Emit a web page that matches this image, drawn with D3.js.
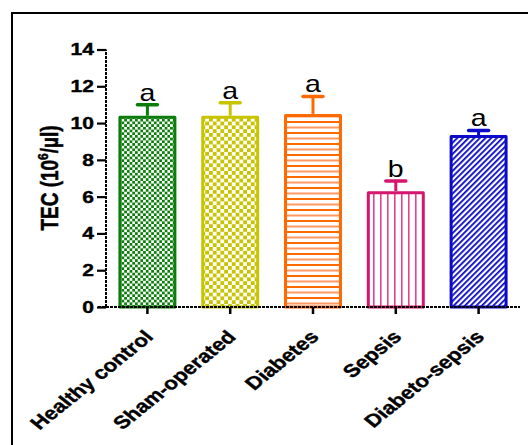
<!DOCTYPE html>
<html><head><meta charset="utf-8">
<script src="https://cdn.jsdelivr.net/npm/d3@7"></script>
<style>body{margin:0;background:#fff}svg{display:block}</style>
</head><body>
<script>
const categories = ["Healthy control","Sham-operated","Diabetes","Sepsis","Diabeto-sepsis"];
const means = [10.4, 10.4, 10.5, 6.3, 9.35];
const errors = [0.6, 0.7, 0.95, 0.55, 0.25];
const letters = ["a","a","a","b","a"];
const yTicks = [0,2,4,6,8,10,12,14];
const colors = ["#0a7d0a","#c8c400","#ff6a00","#d6156f","#0a0ac8"];

const W=528,H=445;
const SX=1.24; // horizontal stretch of the original figure's text
const svg=d3.select("body").append("svg").attr("width",W).attr("height",H);
const defs=svg.append("defs");
const FONT="Liberation Sans, Arial, sans-serif";

function checker(id,col,s){
  const p=defs.append("pattern").attr("id",id).attr("patternUnits","userSpaceOnUse").attr("width",2*s).attr("height",2*s);
  p.append("rect").attr("width",2*s).attr("height",2*s).attr("fill","#fff");
  p.append("rect").attr("width",s).attr("height",s).attr("fill",col);
  p.append("rect").attr("x",s).attr("y",s).attr("width",s).attr("height",s).attr("fill",col);
}
checker("p0",colors[0],2.7);
checker("p1",colors[1],3.8);
{
  const p=defs.append("pattern").attr("id","p2").attr("patternUnits","userSpaceOnUse").attr("width",10).attr("height",11);
  p.append("rect").attr("width",10).attr("height",11).attr("fill","#fff");
  p.append("rect").attr("y",0).attr("width",10).attr("height",2).attr("fill",colors[2]);
  p.append("rect").attr("y",5.5).attr("width",10).attr("height",2).attr("fill","#ff9a66");
}
{
  const p=defs.append("pattern").attr("id","p3").attr("patternUnits","userSpaceOnUse").attr("width",7).attr("height",10);
  p.append("rect").attr("width",7).attr("height",10).attr("fill","#fff");
  p.append("rect").attr("x",2).attr("width",1.6).attr("height",10).attr("fill","#e2448f");
}
{
  const p=defs.append("pattern").attr("id","p4").attr("patternUnits","userSpaceOnUse").attr("width",4).attr("height",4).attr("patternTransform","rotate(45)");
  p.append("rect").attr("width",4).attr("height",4).attr("fill","#fff");
  p.append("rect").attr("width",1.8).attr("height",4).attr("fill",colors[4]);
}

svg.append("rect").attr("x",12).attr("y",13).attr("width",W).attr("height",H).attr("fill","none").attr("stroke","#000").attr("stroke-width",2);

const x0=106,x1=520,yTop=49.5,yBot=307;
const x=d3.scaleBand().domain(categories).range([x0,x1]).paddingInner(0.3).paddingOuter(0.15);
const y=d3.scaleLinear().domain([0,14]).range([yBot,yTop]);

const g=svg.append("g");
categories.forEach((c,i)=>{
  const bx=x(c), bw=x.bandwidth();
  g.append("rect").attr("x",bx+1.5).attr("y",y(means[i])+1.5).attr("width",bw-3).attr("height",y(0)-y(means[i])-1.5)
   .attr("fill",`url(#p${i})`).attr("stroke",colors[i]).attr("stroke-width",3).attr("stroke-linejoin","round");
  const cx=bx+bw/2;
  g.append("line").attr("x1",cx).attr("x2",cx).attr("y1",y(means[i])).attr("y2",y(means[i]+errors[i])).attr("stroke",colors[i]).attr("stroke-width",3);
  g.append("line").attr("x1",cx-10).attr("x2",cx+10).attr("y1",y(means[i]+errors[i])).attr("y2",y(means[i]+errors[i])).attr("stroke",colors[i]).attr("stroke-width",3.5).attr("stroke-linecap","round");
  g.append("text").attr("transform",`translate(${cx},${y(means[i]+errors[i])-4}) scale(${SX},1)`).attr("text-anchor","middle")
   .attr("font-family",FONT).attr("font-size",23).text(letters[i]);
});

const ya=svg.append("g").attr("transform",`translate(${x0},0)`)
  .call(d3.axisLeft(y).tickValues(yTicks).tickSize(9).tickPadding(2));
ya.select(".domain").attr("stroke-width",2).attr("stroke-dasharray","3,1").attr("d",`M0,${yBot}V${yTop}`);
ya.selectAll(".tick line").attr("stroke-width",2.2);
ya.selectAll("text").attr("font-family",FONT).attr("font-weight","bold").attr("font-size",17).attr("fill","#000")
  .attr("stroke","#000").attr("stroke-width",0.4)
  .attr("x",0).attr("transform",`translate(-12,0) scale(${SX},1)`);

const xa=svg.append("g").attr("transform",`translate(0,${yBot})`)
  .call(d3.axisBottom(x).tickSize(7).tickPadding(6));
xa.select(".domain").attr("stroke-width",2).attr("stroke-dasharray","3,1").attr("d",`M${x0-8},0H${x1}`);
xa.selectAll(".tick line").attr("stroke-width",2.5);
xa.selectAll("text").attr("font-family",FONT).attr("font-weight","bold").attr("font-size",18).attr("fill","#000")
  .attr("stroke","#000").attr("stroke-width",0.4)
  .attr("text-anchor","end").attr("y",0).attr("dy",0).attr("transform",`translate(7,31) scale(${SX},1) rotate(-45)`);

const t=svg.append("text").attr("transform",`translate(58,178) scale(${SX},1) rotate(-90)`).attr("text-anchor","middle")
  .attr("font-family",FONT).attr("font-weight","bold").attr("font-size",19)
  .attr("stroke","#000").attr("stroke-width",0.4);
t.append("tspan").text("TEC (10");
t.append("tspan").attr("font-size",12).attr("dy",-8).text("6");
t.append("tspan").attr("dy",8).text("/µl)");
</script>
</body></html>
